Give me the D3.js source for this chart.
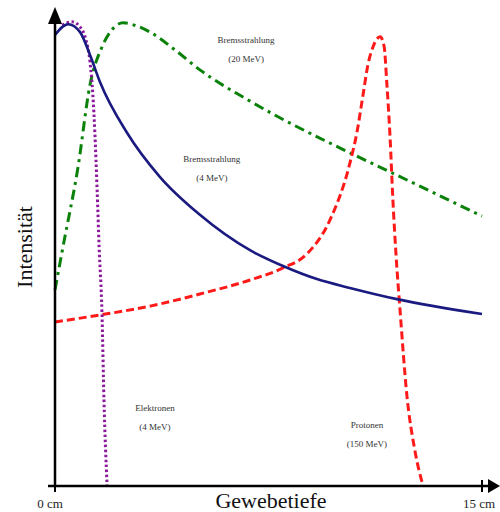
<!DOCTYPE html>
<html>
<head>
<meta charset="utf-8">
<script src="https://cdn.jsdelivr.net/npm/d3@7"></script>
<style>
  body { margin: 0; background: #fff; }
  text { font-family: "Liberation Serif", "DejaVu Serif", serif; }
</style>
</head>
<body>
<div id="container"></div>
<script>
// depth in cm, intensity in % of max
const bremsHigh = [[0, 42.1], [0.28, 51.3], [0.81, 68.5], [1.23, 86.1], [1.65, 94.2], [2.0, 97.9],
  [2.39, 99.4], [2.88, 98.7], [3.34, 97.4], [4.21, 93.6], [5.09, 89.3], [6.85, 82.6],
  [10.36, 71.5], [11.77, 67.4], [15, 57.9]];

const protons = [[0, 35.2], [1.58, 36.7], [3.34, 38.6], [5.09, 41.2], [6.85, 44.2], [8.01, 46.8],
  [8.85, 49.8], [9.66, 57.1], [10.36, 69.3], [10.61, 76.0], [10.82, 83.9], [10.99, 90.3],
  [11.17, 94.2], [11.42, 96.4], [11.56, 94.4], [11.66, 86.1], [11.77, 74.9], [11.87, 61.4],
  [11.98, 49.6], [12.12, 37.8], [12.36, 19.5], [12.64, 7.7], [12.93, 0]];

const electrons = [[0.25, 98.9], [0.6, 99.6], [0.88, 98.5], [1.09, 95.7], [1.23, 91.0], [1.33, 83.9],
  [1.40, 75.8], [1.48, 63.5], [1.55, 51.3], [1.65, 37.1], [1.72, 18.5], [1.83, 0]];

const bremsLow = [[0, 96.8], [0.46, 99.1], [0.88, 97.4], [1.23, 92.5], [1.58, 86.7], [2.53, 75.8],
  [3.69, 66.3], [5.09, 58.2], [6.85, 50.6], [8.01, 47.2], [9.2, 44.4], [10.36, 42.5],
  [12.01, 40.1], [15, 36.9]];

const tickValues = [0, 15];
const tickLabels = ["0 cm", "15 cm"];

const labelTexts = [
  ["Bremsstrahlung", "(20 MeV)"],
  ["Bremsstrahlung", "(4 MeV)"],
  ["Elektronen", "(4 MeV)"],
  ["Protonen", "(150 MeV)"]
];
// label anchor: depth (cm), intensity
const labelSpots = [[6.71, 95.1], [5.51, 69.5], [3.51, 16.1], [10.96, 12.4]];

const width = 500, height = 512;

const svg = d3.select("#container").append("svg")
  .attr("width", width)
  .attr("height", height);

const x = d3.scaleLinear().domain([0, 15]).range([55, 482]);
const y = d3.scaleLinear().domain([0, 100]).range([486, 20]);

const line = d3.line()
  .x(d => x(d[0]))
  .y(d => y(d[1]))
  .curve(d3.curveMonotoneX);

const series = [
  { data: bremsHigh, color: "#0a820a", w: 3, dash: "10,5,3,5" },
  { data: protons, color: "#ff1a1a", w: 3, dash: "8,4" },
  { data: electrons, color: "#8a1a9a", w: 3, dash: "2.5,2.5" },
  { data: bremsLow, color: "#1a1a80", w: 2.6, dash: null }
];

svg.selectAll("path.curve")
  .data(series)
  .join("path")
  .attr("class", "curve")
  .attr("d", d => line(d.data))
  .attr("fill", "none")
  .attr("stroke", d => d.color)
  .attr("stroke-width", d => d.w)
  .attr("stroke-dasharray", d => d.dash);

// axes
const x0 = x(0), y0 = y(0);
svg.append("line")
  .attr("x1", x0).attr("y1", y0 + 1).attr("x2", x0).attr("y2", 22)
  .attr("stroke", "#000").attr("stroke-width", 2.5);
svg.append("path")
  .attr("d", `M${x0},7 L${x0 - 7},24 L${x0 + 7},24 Z`)
  .attr("fill", "#000");

svg.append("line")
  .attr("x1", x0 - 7).attr("y1", y0).attr("x2", 490).attr("y2", y0)
  .attr("stroke", "#000").attr("stroke-width", 2.5);
svg.append("path")
  .attr("d", `M500,${y0} L488,${y0 - 7} L488,${y0 + 7} Z`)
  .attr("fill", "#000");

svg.selectAll("line.tick")
  .data(tickValues)
  .join("line")
  .attr("class", "tick")
  .attr("x1", d => x(d)).attr("x2", d => x(d))
  .attr("y1", (d, i) => i === 0 ? y0 : y0 - 6)
  .attr("y2", y0 + 6)
  .attr("stroke", "#000").attr("stroke-width", 2);

svg.selectAll("text.ticklab")
  .data(tickLabels)
  .join("text")
  .attr("class", "ticklab")
  .attr("x", (d, i) => x(tickValues[i]) + (i === 0 ? -5 : -3))
  .attr("y", 508)
  .attr("text-anchor", "middle")
  .style("font-size", "13px")
  .attr("fill", "#222")
  .text(d => d);

svg.append("text")
  .attr("x", 271).attr("y", 508)
  .attr("text-anchor", "middle")
  .style("font-size", "22px")
  .attr("fill", "#111")
  .text("Gewebetiefe");

svg.append("text")
  .attr("transform", "translate(32,247) rotate(-90)")
  .attr("text-anchor", "middle")
  .style("font-size", "22px")
  .attr("fill", "#111")
  .text("Intensität");

// curve labels
const labels = svg.selectAll("g.lab")
  .data(labelTexts)
  .join("g")
  .attr("class", "lab")
  .attr("transform", (d, i) => `translate(${x(labelSpots[i][0])},${y(labelSpots[i][1])})`);

labels.selectAll("text")
  .data(d => d)
  .join("text")
  .attr("y", (d, i) => i * 19)
  .attr("text-anchor", "middle")
  .style("font-size", "9px")
  .attr("fill", "#333")
  .text(d => d);
</script>
</body>
</html>
